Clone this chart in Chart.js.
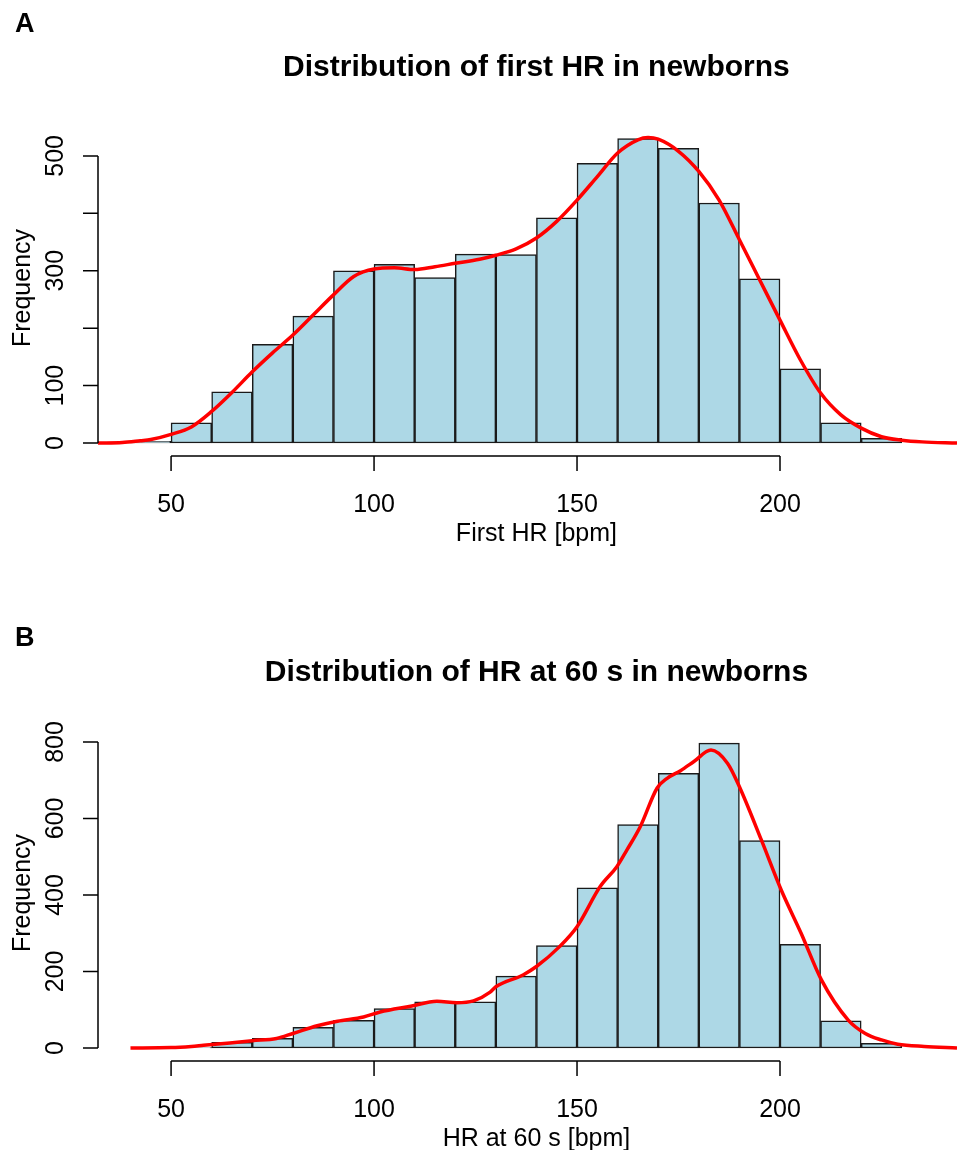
<!DOCTYPE html>
<html>
<head>
<meta charset="utf-8">
<script src="https://cdn.jsdelivr.net/npm/chart.js@4/dist/chart.umd.min.js"></script>
<style>
  body { margin: 0; background: #fff; }
  canvas { display: block; }
</style>
</head>
<body>
<canvas id="chartA" width="957" height="605"></canvas>
<canvas id="chartB" width="957" height="545"></canvas>
<script>
// bin mid-points (10 bpm wide bins) and counts
const binMidsA = [45, 55, 65, 75, 85, 95, 105, 115, 125, 135, 145, 155, 165, 175, 185, 195, 205, 215, 225];
const countsA = [3, 35, 89, 172, 221, 300, 311, 288, 329, 328, 392, 487, 530, 513, 418, 286, 129, 35, 8];

const binMidsB = [55, 65, 75, 85, 95, 105, 115, 125, 135, 145, 155, 165, 175, 185, 195, 205, 215, 225];
const countsB = [1, 15, 25, 54, 72, 103, 121, 121, 188, 268, 419, 584, 718, 797, 542, 271, 71, 12];

// density curves, scaled to counts
const densXA = [32, 38, 42.4, 45, 50, 55, 60, 65, 70, 75, 80, 85, 90, 95, 100, 105, 110, 115, 120, 126, 130, 135, 140, 145, 150, 155, 160, 165, 167.5, 170, 175, 180, 185, 190, 195, 200, 205, 210, 215, 220, 225, 230, 235, 243.6];
const densYA = [0, 1, 4, 6, 15, 28, 55, 88, 124, 157, 188, 223, 258, 290, 303, 305, 302, 307, 313, 320, 327, 338, 357, 386, 423, 464, 505, 528, 532, 529, 508, 473, 423, 354, 284, 214, 145, 87, 49, 26, 11, 5, 2, 0];

const densXB = [40, 50, 55, 58, 64.5, 70, 76, 80, 86, 91, 97.4, 101.5, 109, 115.5, 120.4, 124.5, 128.6, 130, 136.7, 140, 145.7, 150, 155.7, 159.8, 162.3, 165.6, 169.7, 172.2, 175.5, 178.8, 183, 187.1, 190, 195.4, 200.3, 205.2, 210.2, 216.8, 221, 225, 229, 235.5, 243.6];
const densYB = [0, 1, 4, 7, 13, 19, 25, 38, 58, 70, 81, 94, 109, 122, 118, 123, 146, 160, 191, 213, 265, 317, 422, 474, 518, 579, 679, 705, 725, 749, 779, 744, 683, 544, 413, 300, 178, 73, 38, 21, 10, 4, 0];

const xTicks = [50, 100, 150, 200];
const yTicksA = [0, 100, 200, 300, 400, 500];
const yLabelsA = ["0", "100", "", "300", "", "500"];
const yTicksB = [0, 200, 400, 600, 800];
const yLabelsB = ["0", "200", "400", "600", "800"];

const FONT = "'Liberation Sans', Arial, sans-serif";

// base-R style axes, titles and panel letter
const rDecor = {
  id: "rDecor",
  afterDraw(chart, args, o) {
    const { ctx, chartArea, scales: { x, y } } = chart;
    const mid = x.getPixelForValue(140); // R centres on the plot region
    ctx.save();
    ctx.strokeStyle = "#000";
    ctx.fillStyle = "#000";
    ctx.lineWidth = 1.5;

    // y axis
    const ax = chartArea.left;
    ctx.beginPath();
    ctx.moveTo(ax, y.getPixelForValue(o.yTicks[0]));
    ctx.lineTo(ax, y.getPixelForValue(o.yTicks[o.yTicks.length - 1]));
    o.yTicks.forEach(v => {
      const py = y.getPixelForValue(v);
      ctx.moveTo(ax, py);
      ctx.lineTo(ax - 15, py);
    });
    ctx.stroke();
    ctx.font = "25px " + FONT;
    ctx.textAlign = "center";
    ctx.textBaseline = "alphabetic";
    o.yTicks.forEach((v, i) => {
      if (!o.yLabels[i]) return;
      ctx.save();
      ctx.translate(63, y.getPixelForValue(v));
      ctx.rotate(-Math.PI / 2);
      ctx.fillText(o.yLabels[i], 0, 0);
      ctx.restore();
    });
    ctx.save();
    ctx.translate(30, (chartArea.top + chartArea.bottom) / 2);
    ctx.rotate(-Math.PI / 2);
    ctx.fillText("Frequency", 0, 0);
    ctx.restore();

    // x axis
    const ay = chartArea.bottom;
    ctx.beginPath();
    ctx.moveTo(x.getPixelForValue(xTicks[0]), ay);
    ctx.lineTo(x.getPixelForValue(xTicks[xTicks.length - 1]), ay);
    xTicks.forEach(v => {
      const px = x.getPixelForValue(v);
      ctx.moveTo(px, ay);
      ctx.lineTo(px, ay + 15);
    });
    ctx.stroke();
    xTicks.forEach(v => ctx.fillText(String(v), x.getPixelForValue(v), 512));
    ctx.fillText(o.xTitle, mid, 541);

    // main title and panel letter
    ctx.font = "bold 30px " + FONT;
    ctx.fillText(o.title, mid, o.titleY);
    ctx.font = "bold 27px " + FONT;
    ctx.textAlign = "left";
    ctx.fillText(o.letter, 15, o.letterY);
    ctx.restore();
  }
};

function histChart(id, mids, counts, dx, dy, yMin, yMax, bottomPad, decor) {
  return new Chart(document.getElementById(id), {
    type: "bar",
    data: {
      datasets: [
        {
          type: "line",
          data: dx.map((v, i) => ({ x: v, y: dy[i] })),
          borderColor: "#ff0000",
          borderWidth: 3.5,
          pointRadius: 0,
          cubicInterpolationMode: "monotone",
          order: 0
        },
        {
          type: "bar",
          data: mids.map((m, i) => ({ x: m, y: counts[i] })),
          backgroundColor: "#add8e6",
          borderColor: "#1a1a1a",
          borderWidth: 1.5,
          borderSkipped: false,
          barPercentage: 1,
          categoryPercentage: 1,
          order: 1
        }
      ]
    },
    options: {
      responsive: false,
      animation: false,
      events: [],
      layout: { padding: { left: 98, right: 0, top: 120, bottom: bottomPad } },
      plugins: { legend: { display: false }, tooltip: { enabled: false }, rDecor: decor },
      scales: {
        x: { type: "linear", min: 32, max: 243.6, offset: false, display: false },
        y: { type: "linear", min: yMin, max: yMax, display: false }
      }
    },
    plugins: [rDecor]
  });
}

histChart("chartA", binMidsA, countsA, densXA, densYA, -22.6, 562.5, 149, {
  title: "Distribution of first HR in newborns",
  xTitle: "First HR [bpm]",
  letter: "A", letterY: 32, titleY: 76,
  yTicks: yTicksA, yLabels: yLabelsA
});

histChart("chartB", binMidsB, countsB, densXB, densYB, -34, 844.4, 89, {
  title: "Distribution of HR at 60 s in newborns",
  xTitle: "HR at 60 s [bpm]",
  letter: "B", letterY: 41, titleY: 76,
  yTicks: yTicksB, yLabels: yLabelsB
});
</script>
</body>
</html>
